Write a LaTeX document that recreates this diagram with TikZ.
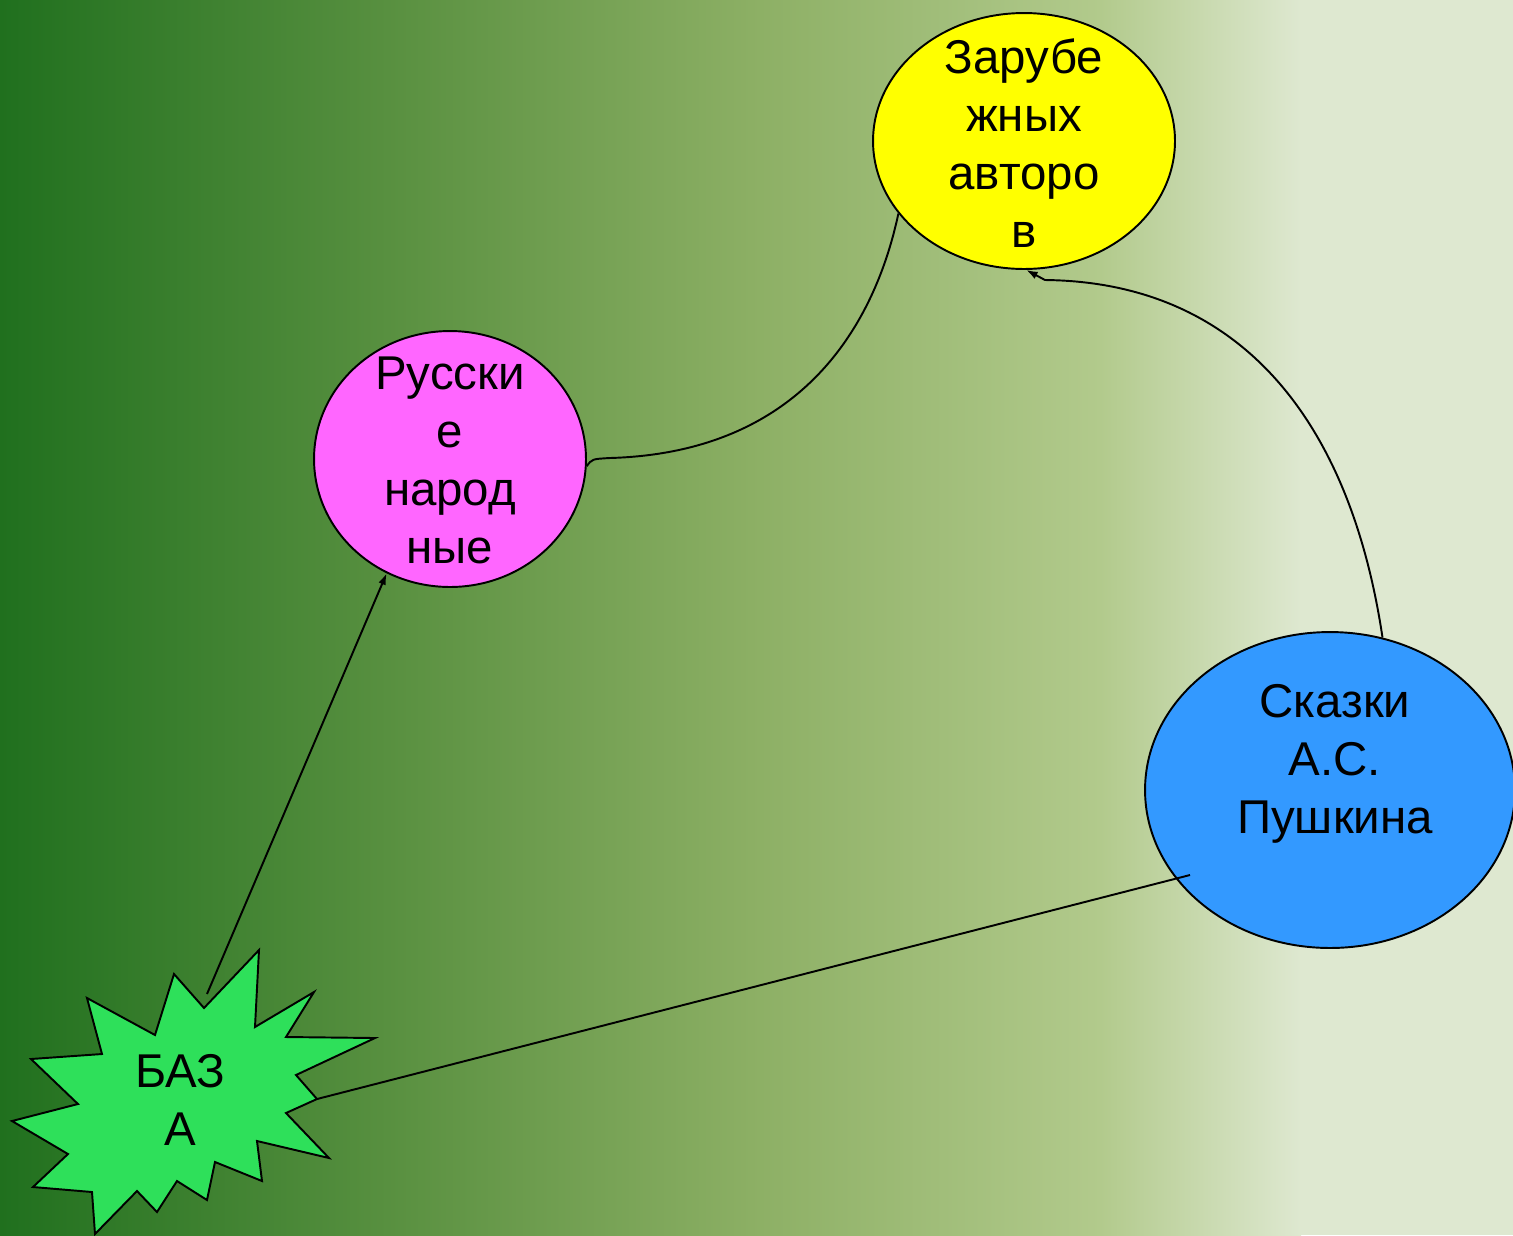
\documentclass[tikz,border=0pt]{standalone}
\usepackage{fontspec}
\setmainfont{Liberation Sans}
\usetikzlibrary{shapes.geometric,arrows.meta}
\tikzset{>={Latex[length=6.5pt,width=4.5pt]}}
\definecolor{bgdark}{RGB}{32,112,30}
\definecolor{bgleft}{RGB}{90,145,65}
\definecolor{bgmid}{RGB}{140,175,100}
\definecolor{bgolive}{RGB}{178,202,140}
\definecolor{bglight}{RGB}{222,232,208}
\definecolor{zarfill}{RGB}{255,255,0}
\definecolor{russfill}{RGB}{255,102,255}
\definecolor{skzfill}{RGB}{51,153,255}
\definecolor{bazafill}{RGB}{46,224,90}
\begin{document}
\begin{tikzpicture}[x=0.02cm,y=-0.02cm,
	theme/.style={draw,ellipse,inner sep=0pt,line width=1.1pt},
	caption/.style={align=center,inner sep=0pt,font=\fontsize{27}{33}\selectfont},
	link/.style={line width=1.1pt}]
	\useasboundingbox (0,0) rectangle (1513,1235);
	% background
	\shade[left color=bgdark,right color=bgleft] (0,0) rectangle (401,1235);
	\shade[left color=bgleft,right color=bgmid] (400,0) rectangle (751,1235);
	\shade[left color=bgmid,right color=bgolive] (750,0) rectangle (1101,1235);
	\shade[left color=bgolive,right color=bglight] (1100,0) rectangle (1301,1235);
	\fill[bglight] (1300,0) rectangle (1513,1235);
	% star
	\draw[fill=bazafill,line width=1.1pt] (259,950) -- (255,1027) -- (314,992) -- (286,1037) -- (375,1038)
		-- (296,1075) -- (317,1099) -- (286,1113) -- (329,1158) -- (257,1141) -- (262,1181) -- (215,1162)
		-- (207,1200) -- (177,1181) -- (157,1212) -- (137,1191) -- (95,1234) -- (92,1192) -- (33,1187)
		-- (68,1154) -- (12,1121) -- (78,1104) -- (31,1059) -- (102,1054) -- (87,998) -- (155,1035)
		-- (174,974) -- (204,1008) -- cycle;
	\node (baza) at (180,1100) [caption]{БАЗ\\А};
	\coordinate (baza-top) at (207,994);
	\coordinate (baza-right) at (317,1099);
	% themes
	\node (zar) at (1024,141) [theme,fill=zarfill,minimum width=6.04cm,minimum height=5.12cm]{};
	\node (zar-text) at (1024,143) [caption]{Зарубе\\жных\\авторо\\в};
	\node (russ) at (450,459) [theme,fill=russfill,minimum width=5.44cm,minimum height=5.12cm]{};
	\node (russ-text) at (450,460) [caption]{Русски\\е\\народ\\ные};
	\node (skz) at (1330,790) [theme,fill=skzfill,minimum width=7.4cm,minimum height=6.32cm]{};
	\node (skz-text) at (1335,764) [caption]{Сказки\\А.С.\\Пушкина};
	% links
	\draw [link,->] (baza-top) -- (russ.241);
	\draw [link] (russ.-3) .. controls (592,459) .. (610,458) .. controls (820,452) and (880,300) .. (zar.210);
	\draw [link,->] (skz.71) .. controls (1350,420) and (1240,282) .. (1045,280) -- (zar.-89);
	\draw [link] (baza-right) -- ([shift={(-140,85)}]skz.center);
\end{tikzpicture}
\end{document}
